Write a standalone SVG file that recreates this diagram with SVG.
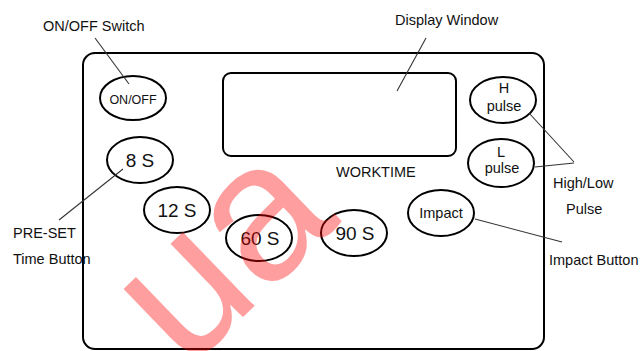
<svg xmlns="http://www.w3.org/2000/svg" width="644" height="351" viewBox="0 0 644 351">
<style>
.lbl{font-family:"Liberation Sans",Arial,sans-serif;font-size:14.5px;fill:#111}
.btn{font-family:"Liberation Sans",Arial,sans-serif;fill:#111;text-anchor:middle}
.el{fill:none;stroke:#000;stroke-width:2}
.ln{stroke:#333;stroke-width:1.1;fill:none}
</style>
<rect width="644" height="351" fill="#fff"/>
<g id="panel">
<rect x="83" y="53" width="461" height="296" rx="12" fill="none" stroke="#000" stroke-width="2"/>
</g>
<g id="display">
<rect x="223" y="73" width="233" height="83" rx="8" fill="none" stroke="#000" stroke-width="2"/>
</g>
<g id="onoff"><ellipse class="el" cx="133" cy="98" rx="33" ry="22"/><text class="btn" x="133" y="104" font-size="12.5">ON/OFF</text></g>
<g id="b8"><ellipse class="el" cx="140" cy="160" rx="33" ry="23"/><text class="btn" x="140" y="167" font-size="19">8 S</text></g>
<g id="b12"><ellipse class="el" cx="177" cy="210" rx="33" ry="23"/><text class="btn" x="177" y="217" font-size="19">12 S</text></g>
<g id="b60"><ellipse class="el" cx="259" cy="238" rx="33" ry="23"/><text class="btn" x="260" y="245" font-size="19">60 S</text></g>
<g id="b90"><ellipse class="el" cx="354" cy="233" rx="33" ry="23"/><text class="btn" x="355" y="240" font-size="19">90 S</text></g>
<g id="impact"><ellipse class="el" cx="441" cy="213" rx="33" ry="23"/><text class="btn" x="441" y="218" font-size="14.5">Impact</text></g>
<g id="hpulse"><ellipse class="el" cx="503" cy="100" rx="33" ry="23"/><text class="btn" x="504" y="93" font-size="14.5">H</text><text class="btn" x="504" y="111" font-size="14.5">pulse</text></g>
<g id="lpulse"><ellipse class="el" cx="501" cy="163" rx="33" ry="24"/><text class="btn" x="501" y="157" font-size="14.5">L</text><text class="btn" x="502" y="173" font-size="14.5">pulse</text></g>
<g id="labels">
<text class="lbl" x="43" y="31">ON/OFF Switch</text>
<text class="lbl" x="395" y="25">Display Window</text>
<text class="lbl" x="336" y="177">WORKTIME</text>
<text class="lbl" x="553" y="188">High/Low</text>
<text class="lbl" x="566" y="214">Pulse</text>
<text class="lbl" x="549" y="265">Impact Button</text>
<text class="lbl" x="13" y="238">PRE-SET</text>
<text class="lbl" x="13" y="264">Time Button</text>
</g>
<g id="connectors">
<line class="ln" x1="95" y1="38" x2="129" y2="84"/>
<line class="ln" x1="426" y1="38" x2="397" y2="91"/>
<line class="ln" x1="529" y1="113" x2="574" y2="162"/>
<line class="ln" x1="535" y1="167" x2="574" y2="163"/>
<line class="ln" x1="475" y1="219" x2="562" y2="242"/>
<line class="ln" x1="123" y1="169" x2="59" y2="220"/>
</g>
<g id="watermark">
<text transform="translate(186,372) rotate(-44)" font-family="Liberation Sans,Arial,sans-serif" font-size="195" fill="#ff0000" fill-opacity="0.38">ua</text>
</g>
</svg>
